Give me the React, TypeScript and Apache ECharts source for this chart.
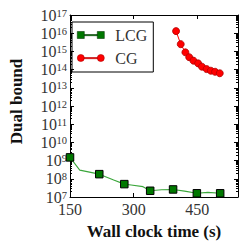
import React, { useEffect, useRef } from 'react';
import * as echarts from 'echarts';

// LCG: marked iterations and the traced curve between them
const lcgMarkerTime = [150, 219, 278, 339, 393, 449, 504];
const lcgMarkerBound = [1.5e9, 1.8e8, 5.1e7, 2.2e7, 2.6e7, 1.6e7, 1.6e7];
const lcgCurveTime = [150, 173, 219, 253, 278, 294, 322, 339, 366, 393, 420, 449, 475, 504];
const lcgCurveBound = [1.5e9, 3.0e8, 1.8e8, 8.6e7, 5.1e7, 4.6e7, 3.7e7, 2.2e7, 2.5e7, 2.6e7, 2.1e7, 1.6e7, 1.8e7, 1.6e7];

// CG
const cgTime = [400, 411, 422, 431, 441, 452, 461, 472, 482, 492, 503];
const cgBound = [1.3e16, 2.5e15, 8.9e14, 4.8e14, 3.1e14, 2.2e14, 1.45e14, 1.07e14, 8.7e13, 7.6e13, 6.3e13];

// axes
const xTicks = [150, 300, 450];
const xMin = 150;
const xMax = 546;
const yExponents = [7, 8, 9, 10, 11, 12, 13, 14, 15, 16, 17];
const yMinorMultipliers = [2, 3, 4, 5, 6, 7, 8, 9];

const FONT = 'Liberation Serif';

const yMajor = yExponents.map((e) => Math.pow(10, e));
const yMinor: number[] = [];
yExponents.slice(0, -1).forEach((e) => yMinorMultipliers.forEach((m) => yMinor.push(m * Math.pow(10, e))));

const squareIcon = 'path://M0,0H7V7H0Z M7,3H20V4.2H7Z M20,0H27V7H20Z';
const circleIcon =
  'path://M0,3.5A3.5,3.5,0,1,1,7,3.5A3.5,3.5,0,1,1,0,3.5Z M7,3H20V4.2H7Z M20,3.5A3.5,3.5,0,1,1,27,3.5A3.5,3.5,0,1,1,20,3.5Z';

const GREEN = '#007800';
const GREEN_LINE = '#3aa63a';
const RED = '#ff0000';
const TEXT = '#333';

function yAxisBase(position: string) {
  return {
    type: 'log',
    logBase: 10,
    min: 1e7,
    max: 1e17,
    position,
    splitLine: { show: false },
  };
}

function xAxisBase(position: string) {
  return {
    type: 'value',
    min: xMin,
    max: xMax,
    interval: 150,
    position,
    splitLine: { show: false },
    axisLine: { show: true, onZero: false, lineStyle: { color: '#000', width: 1 } },
    axisTick: { show: true, inside: true, length: 4, customValues: xTicks, lineStyle: { color: '#000' } },
  };
}

export default function App() {
  const ref = useRef<HTMLDivElement>(null);
  useEffect(() => {
    const chart = echarts.init(ref.current!, null, { renderer: 'svg' });
    const option = {
      animation: false,
      backgroundColor: '#fff',
      textStyle: { fontFamily: FONT },
      grid: { left: 65, right: 10, top: 15, bottom: 52, containLabel: false },
      legend: {
        orient: 'vertical',
        left: 72,
        top: 22,
        padding: [5, 6, 6, 5],
        itemGap: 7,
        itemWidth: 27,
        itemHeight: 7,
        borderColor: '#000',
        borderWidth: 1,
        borderRadius: 0,
        selectedMode: false,
        textStyle: { fontFamily: FONT, fontSize: 16, color: TEXT, padding: [0, 0, 0, 6] },
        data: [
          { name: 'LCG', icon: squareIcon, itemStyle: { color: GREEN, borderColor: '#0a3a0a', borderWidth: 0.6 } },
          { name: 'CG', icon: circleIcon, itemStyle: { color: RED, borderColor: '#b00000', borderWidth: 0.6 } },
        ],
      },
      xAxis: [
        {
          ...xAxisBase('bottom'),
          name: 'Wall clock time (s)',
          nameLocation: 'middle',
          nameGap: 26,
          nameTextStyle: { fontFamily: FONT, fontSize: 17, fontWeight: 'bold', color: '#111' },
          axisLabel: {
            show: true,
            customValues: xTicks,
            margin: 4,
            fontFamily: FONT,
            fontSize: 16,
            color: TEXT,
            formatter: (v: number) => String(v),
          },
        },
        { ...xAxisBase('top'), axisLabel: { show: false } },
      ],
      yAxis: [
        {
          ...yAxisBase('left'),
          name: 'Dual bound',
          nameLocation: 'middle',
          nameGap: 45,
          nameRotate: 90,
          nameTextStyle: { fontFamily: FONT, fontSize: 17, fontWeight: 'bold', color: '#111', padding: [0, 0, 0, 9] },
          axisLine: { show: true, lineStyle: { color: '#000', width: 1 } },
          axisTick: { show: true, inside: true, length: 4, customValues: yMajor, lineStyle: { color: '#000' } },
          axisLabel: {
            show: true,
            customValues: yMajor,
            margin: 3,
            fontFamily: FONT,
            color: TEXT,
            formatter: (v: number) => `{b|10}{s|${Math.round(Math.log10(v))}}`,
            rich: {
              b: { fontFamily: FONT, fontSize: 16, color: TEXT, lineHeight: 15 },
              s: { fontFamily: FONT, fontSize: 10.5, color: TEXT, lineHeight: 10, verticalAlign: 'top' },
            },
          },
        },
        {
          ...yAxisBase('right'),
          axisLine: { show: true, lineStyle: { color: '#000', width: 1 } },
          axisTick: { show: true, inside: true, length: 4, customValues: yMajor, lineStyle: { color: '#000' } },
          axisLabel: { show: false },
        },
        {
          ...yAxisBase('right'),
          axisLine: { show: false },
          axisTick: { show: true, inside: true, length: 2, customValues: yMinor, lineStyle: { color: '#000' } },
          axisLabel: { show: false },
        },
        {
          ...yAxisBase('left'),
          axisLine: { show: false },
          axisTick: { show: true, inside: true, length: 2, customValues: yMinor, lineStyle: { color: '#000' } },
          axisLabel: { show: false },
        },
      ],
      series: [
        {
          name: 'LCG',
          type: 'line',
          xAxisIndex: 0,
          yAxisIndex: 0,
          symbol: 'none',
          lineStyle: { color: GREEN_LINE, width: 1.1 },
          itemStyle: { color: GREEN },
          data: lcgCurveTime.map((t, i) => [t, lcgCurveBound[i]]),
          z: 2,
        },
        {
          name: 'LCG',
          type: 'scatter',
          xAxisIndex: 0,
          yAxisIndex: 0,
          symbol: 'rect',
          symbolSize: 7.5,
          itemStyle: { color: GREEN, borderColor: '#000', borderWidth: 1, opacity: 1 },
          data: lcgMarkerTime.map((t, i) => [t, lcgMarkerBound[i]]),
          z: 4,
        },
        {
          name: 'CG',
          type: 'line',
          xAxisIndex: 0,
          yAxisIndex: 0,
          symbol: 'circle',
          symbolSize: 7,
          showSymbol: true,
          showAllSymbol: true,
          lineStyle: { color: RED, width: 1 },
          itemStyle: { color: RED, borderColor: '#b00000', borderWidth: 0.8 },
          data: cgTime.map((t, i) => [t, cgBound[i]]),
          z: 3,
        },
      ],
    };
    chart.setOption(option as any);
    return () => chart.dispose();
  }, []);
  return <div ref={ref} style={{ position: 'absolute', left: 0, top: 0, width: 248, height: 249 }} />;
}
